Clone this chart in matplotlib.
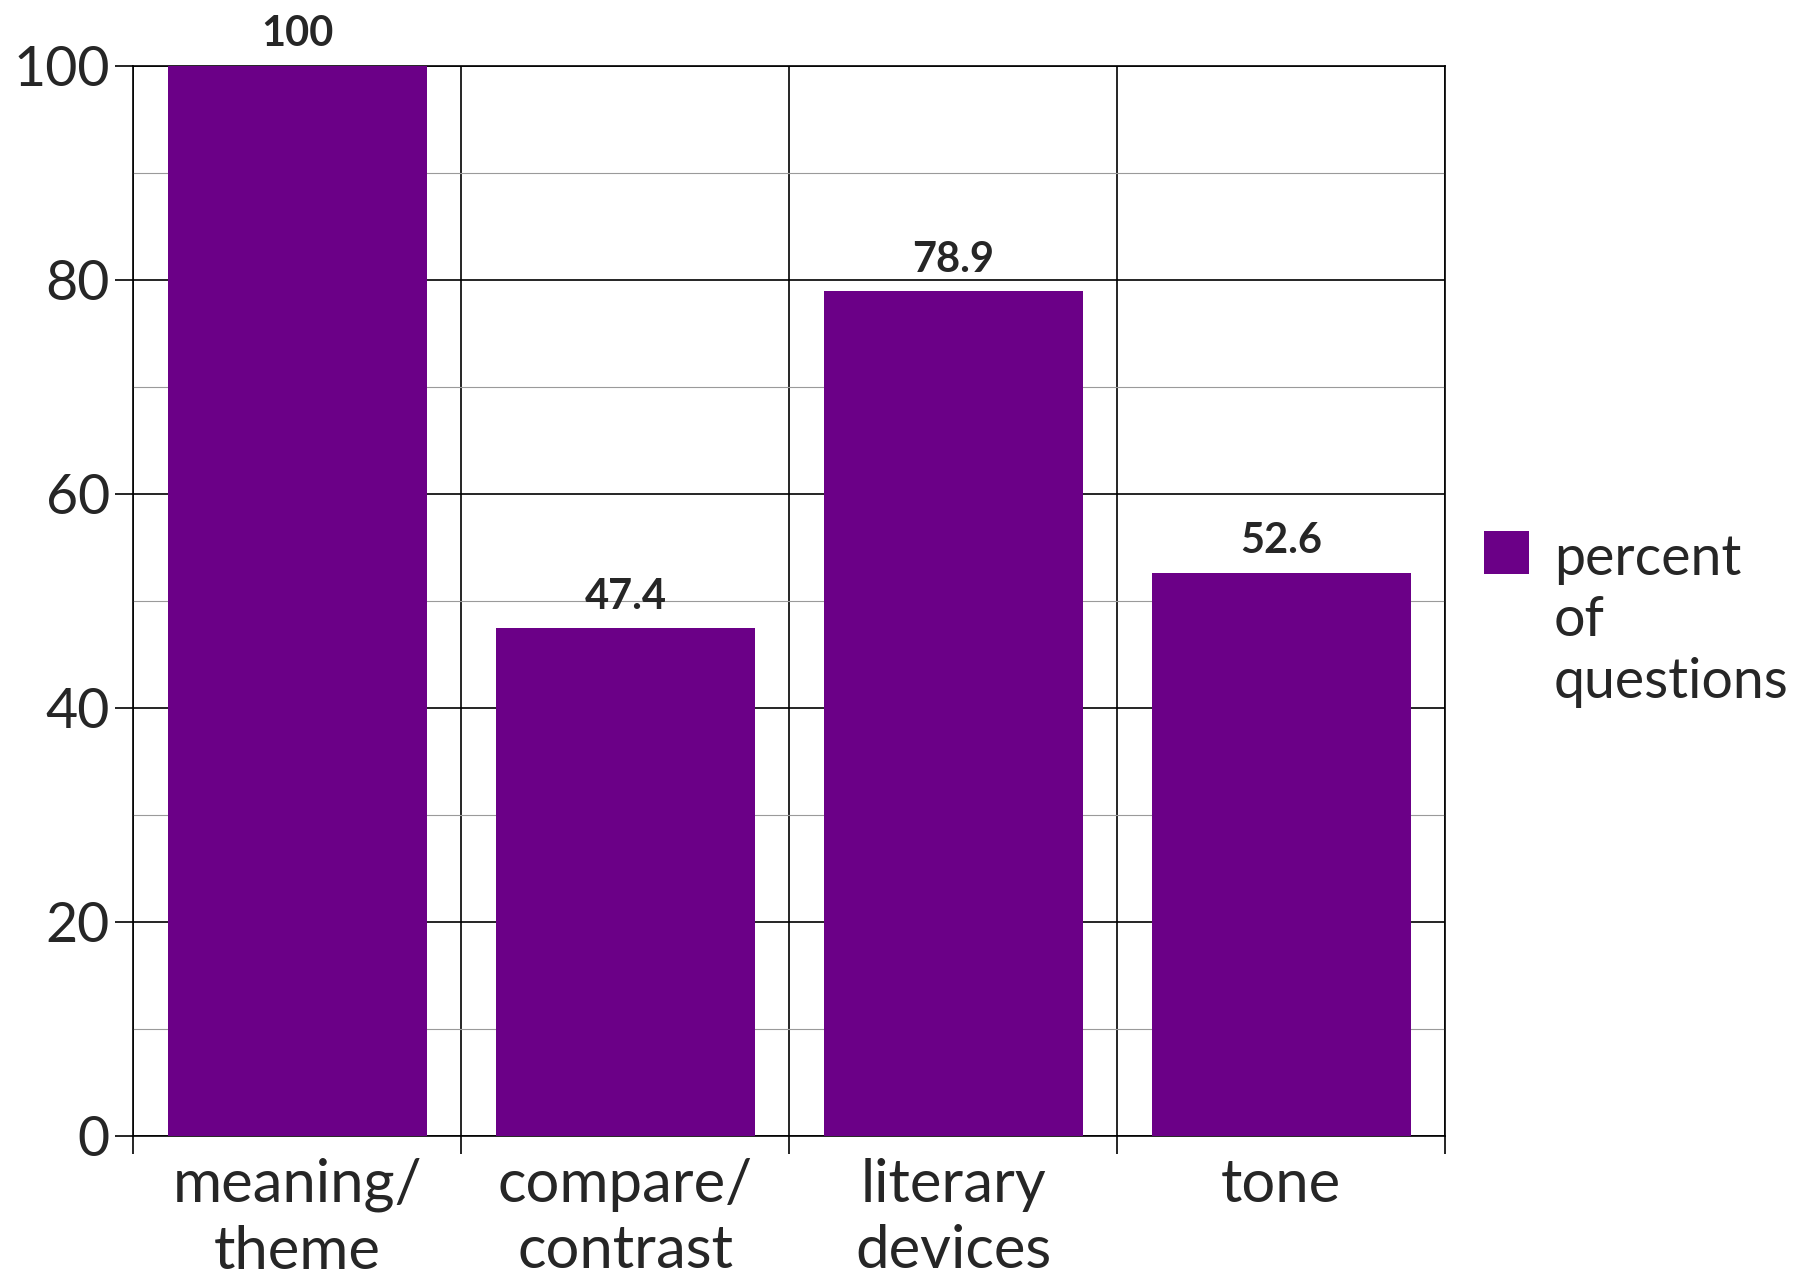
import matplotlib
matplotlib.use("Agg")
import matplotlib.pyplot as plt
import numpy as np
from matplotlib.ticker import MultipleLocator
from matplotlib.patches import Rectangle
from matplotlib.legend_handler import HandlerPatch, update_from_first_child
from matplotlib.container import BarContainer

categories = ["meaning/\ntheme", "compare/\ncontrast", "literary\ndevices", "tone"]
values = [100, 47.4, 78.9, 52.6]
value_labels = ["100", "47.4", "78.9", "52.6"]
series_name = "percent\nof\nquestions"
yticks = [0, 20, 40, 60, 80, 100]

purple = "#6b0087"
txt = "#262626"

plt.rcParams["font.family"] = ["Lato", "DejaVu Sans"]

fig = plt.figure(figsize=(18.04, 12.76), dpi=100)
ax = fig.add_axes([0.074, 0.110, 0.727, 0.8386])

x = np.arange(len(categories))
bars = ax.bar(x, values, width=0.79, color=purple, label=series_name, zorder=3)

for b, lab in zip(bars, value_labels):
    ax.annotate(lab, (b.get_x() + b.get_width() / 2, b.get_height()),
                xytext=(0, 9), textcoords="offset points",
                ha="center", va="bottom", fontsize=30, fontweight="bold",
                color=txt)

ax.set_xlim(-0.5, len(categories) - 0.5)
ax.set_ylim(0, 100)
ax.set_yticks(yticks)
ax.yaxis.set_minor_locator(MultipleLocator(10))
ax.set_yticklabels([str(t) for t in yticks], fontsize=40, color=txt)
ax.tick_params(axis="y", which="major", length=13, width=1.2, pad=4, color="black")
ax.tick_params(axis="y", which="minor", length=0)

# category boundaries as ticks and vertical lines
bounds = np.arange(len(categories) + 1) - 0.5
ax.set_xticks(bounds)
ax.set_xticklabels([])
ax.set_xticks(x, minor=True)
ax.set_xticklabels(categories, minor=True, fontsize=43, color=txt, linespacing=1.28)
ax.tick_params(axis="x", which="major", length=13, width=1.2, color="black")
ax.tick_params(axis="x", which="minor", length=0, pad=16)

ax.grid(axis="y", which="major", color="black", linewidth=1.2, zorder=0)
ax.grid(axis="y", which="minor", color="#9a9a9a", linewidth=0.8, zorder=0)
ax.grid(axis="x", which="major", color="black", linewidth=1.2, zorder=0)
ax.set_axisbelow(True)

for s in ax.spines.values():
    s.set_linewidth(1.2)
    s.set_color("black")

legend_fs = 40


def top_square(legend, orig_handle, xdescent, ydescent, width, height, fontsize):
    # put the square level with the first line of the label
    return Rectangle((-xdescent, -ydescent + fontsize * 1.25), width, height)


leg = ax.legend(loc="center left", bbox_to_anchor=(1.03, 0.481), frameon=False,
                fontsize=legend_fs, handlelength=0.8, handleheight=0.8,
                handletextpad=0.45, borderpad=0, borderaxespad=0,
                handler_map={BarContainer: HandlerPatch(
                    patch_func=top_square, update_func=update_from_first_child)})
for t in leg.get_texts():
    t.set_linespacing(1.25)
    t.set_color(txt)

fig.savefig("out.png", dpi=100)
